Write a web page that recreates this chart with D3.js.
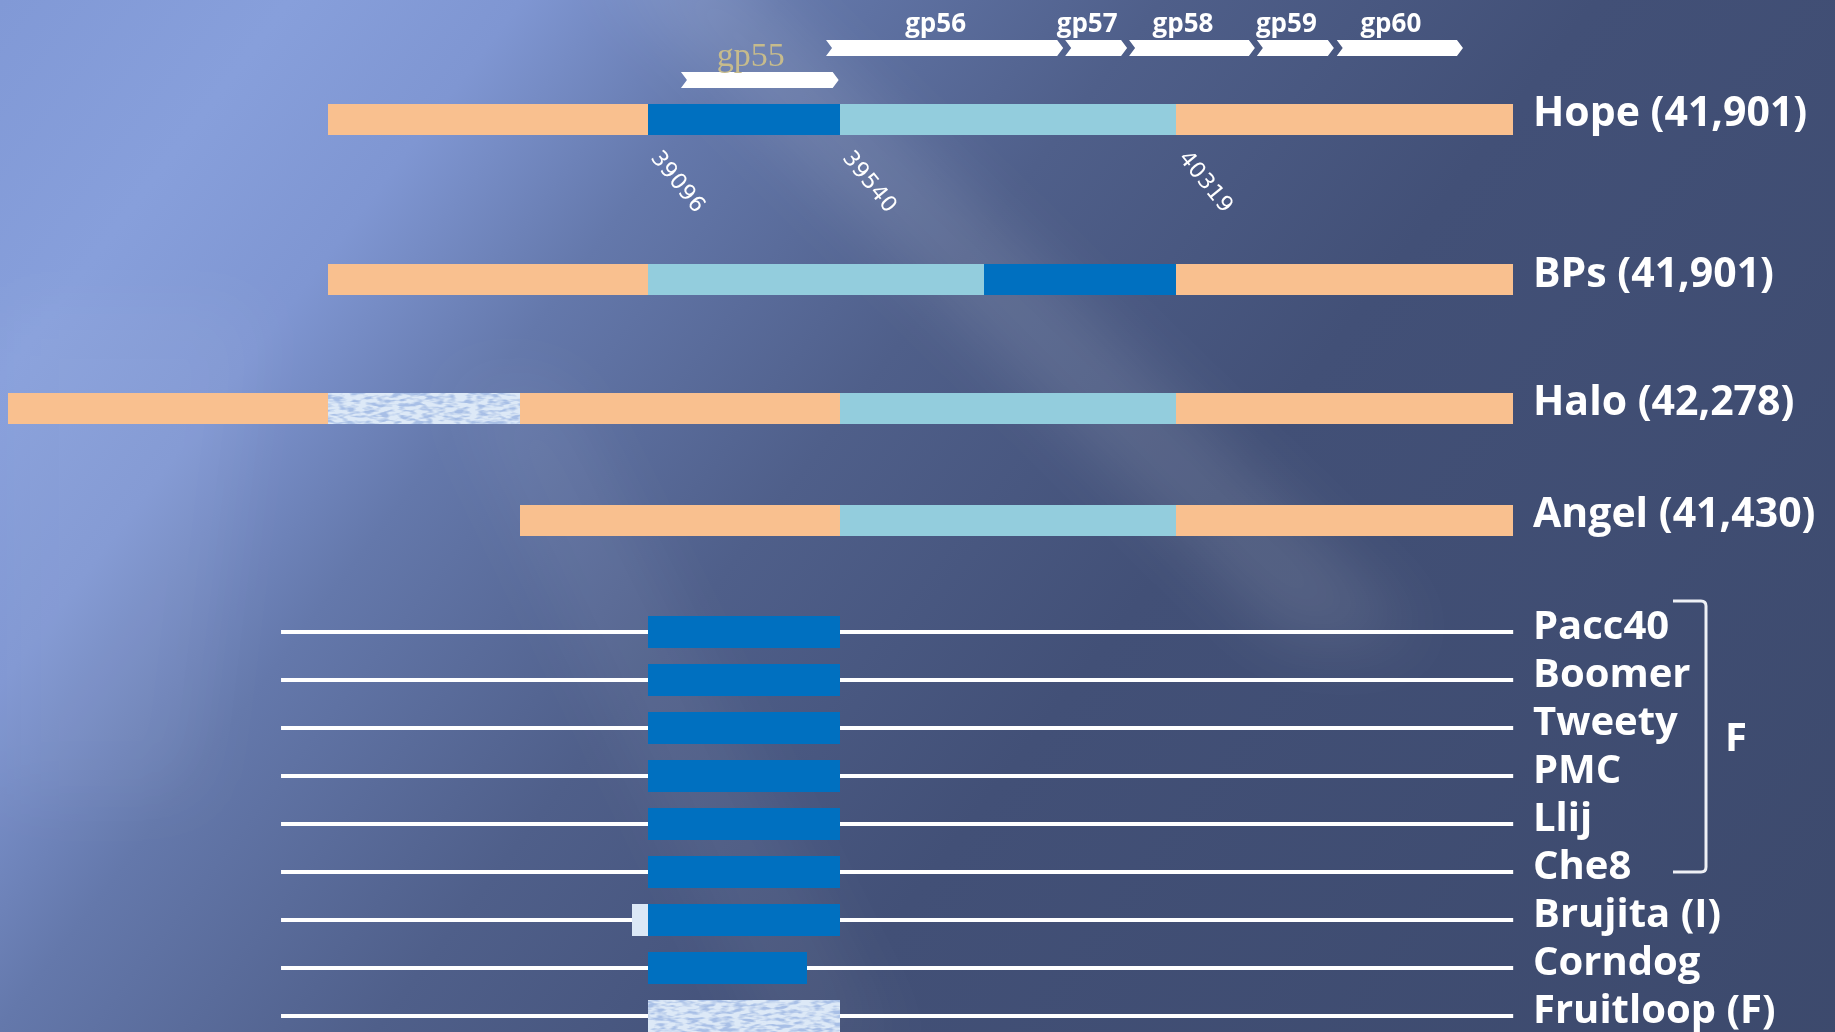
<!DOCTYPE html>
<html>
<head>
<meta charset="utf-8">
<script src="https://cdn.jsdelivr.net/npm/d3@7"></script>
<style>
  html, body { margin: 0; padding: 0; overflow: hidden; background: #3c4a6c; }
  svg { display: block; }
</style>
</head>
<body>
<svg id="chart" width="1835" height="1032"></svg>
<script>
// ---------------- DATA ----------------
const genomeNames = ["Hope (41,901)", "BPs (41,901)", "Halo (42,278)", "Angel (41,430)"];
const hopeSegments  = [[38355, 39096, "flank"], [39096, 39540, "dark"], [39540, 40319, "light"], [40319, 41100, "flank"]];
const bpsSegments   = [[38355, 39096, "flank"], [39096, 39874, "light"], [39874, 40319, "dark"], [40319, 41100, "flank"]];
const haloSegments  = [[37614, 38355, "flank"], [38355, 38800, "mottled"], [38800, 39540, "flank"], [39540, 40319, "light"], [40319, 41100, "flank"]];
const angelSegments = [[38800, 39540, "flank"], [39540, 40319, "light"], [40319, 41100, "flank"]];

const geneNames = ["gp55", "gp56", "gp57", "gp58", "gp59", "gp60"];
const geneStart = [39170, 39506, 40060, 40208, 40504, 40689];
const geneEnd   = [39540, 40060, 40208, 40504, 40687, 40986];
const geneTier  = [1, 0, 0, 0, 0, 0];

const coordTicks = [39096, 39540, 40319];

const phageNames = ["Pacc40", "Boomer", "Tweety", "PMC", "Llij", "Che8", "Brujita (I)", "Corndog", "Fruitloop (F)"];
const phageSegments = [
  [[39096, 39540, "dark"]],
  [[39096, 39540, "dark"]],
  [[39096, 39540, "dark"]],
  [[39096, 39540, "dark"]],
  [[39096, 39540, "dark"]],
  [[39096, 39540, "dark"]],
  [[39059, 39096, "pale"], [39096, 39540, "dark"]],
  [[39096, 39465, "dark"]],
  [[39096, 39540, "mottled"]]
];
const phageLineSpan = [38246, 41100];
const clusterName = "F";
const clusterMembers = [0, 5];

// ---------------- LAYOUT ----------------
const W = 1835, H = 1032;
const svg = d3.select("#chart");
const defs = svg.append("defs");

const x = d3.scaleLinear().domain([39096, 40319]).range([648, 1176]);

const fills = { flank: "#f9c08f", dark: "#0070c0", light: "#93cddd", pale: "#dbe8f6", mottled: "#dde9f7" };

// background gradient
const bg = defs.append("linearGradient").attr("id", "bg")
  .attr("gradientUnits", "userSpaceOnUse")
  .attr("x1", 0).attr("y1", 0).attr("x2", 1835).attr("y2", 1400);
[[0, "#8199d6"], [0.1, "#879fdb"], [0.18, "#7f96d2"], [0.27, "#6478ab"], [0.4, "#4f5f8a"], [0.55, "#425077"], [1, "#3b486a"]]
  .forEach(([o, c]) => bg.append("stop").attr("offset", o).attr("stop-color", c));

const blur = defs.append("filter").attr("id", "blur")
  .attr("x", "-50%").attr("y", "-50%").attr("width", "200%").attr("height", "200%");
blur.append("feGaussianBlur").attr("stdDeviation", 35);

const mottle = defs.append("filter").attr("id", "mottle")
  .attr("color-interpolation-filters", "sRGB");
mottle.append("feTurbulence").attr("type", "fractalNoise").attr("baseFrequency", "0.09 0.28")
  .attr("numOctaves", 2).attr("seed", 4).attr("result", "t");
mottle.append("feColorMatrix").attr("in", "t").attr("type", "matrix")
  .attr("values", "0 0 0 0 0.66  0 0 0 0 0.75  0 0 0 0 0.90  4 0 0 0 -1.7").attr("result", "c");
mottle.append("feComposite").attr("in", "c").attr("in2", "SourceGraphic").attr("operator", "in").attr("result", "m");
const mm = mottle.append("feMerge");
mm.append("feMergeNode").attr("in", "SourceGraphic");
mm.append("feMergeNode").attr("in", "m");

svg.append("rect").attr("width", W).attr("height", H).attr("fill", "url(#bg)");
const streaks = svg.append("g").attr("filter", "url(#blur)");
streaks.append("polygon").attr("points", "600,-40 720,-40 1420,640 1290,640")
  .attr("fill", "#ffffff").attr("opacity", 0.12);
streaks.append("polygon").attr("points", "0,300 260,300 200,800 0,800")
  .attr("fill", "#ffffff").attr("opacity", 0.05);
streaks.append("polygon").attr("points", "450,380 560,380 900,1060 780,1060")
  .attr("fill", "#ffffff").attr("opacity", 0.06);

// ---------------- GENOME BARS ----------------
const genomeSegs = [hopeSegments, bpsSegments, haloSegments, angelSegments];
const genomeY = [119, 279.5, 408, 520];
const barH = 31;

const gG = svg.append("g");
genomeSegs.forEach((segs, i) => {
  gG.selectAll(null).data(segs).enter().append("rect")
    .attr("x", d => Math.round(x(d[0])))
    .attr("width", d => Math.round(x(d[1])) - Math.round(x(d[0])))
    .attr("y", Math.round(genomeY[i] - barH / 2))
    .attr("height", barH)
    .attr("fill", d => fills[d[2]])
    .attr("filter", d => d[2] === "mottled" ? "url(#mottle)" : null)
    .attr("shape-rendering", "crispEdges");
});
gG.selectAll(null).data(genomeNames).enter().append("text")
  .attr("x", 1533).attr("y", (d, i) => genomeY[i] + 7)
  .attr("fill", "#ffffff")
  .style("font-family", "'Open Sans', sans-serif").style("font-weight", 700).style("font-size", "41px")
  .text(d => d);

// ---------------- GENE ARROWS ----------------
const tierY = [48, 80];
const arrH = 16, tip = 6;
const genes = geneNames.map((n, i) => ({ name: n, s: geneStart[i], e: geneEnd[i], tier: geneTier[i] }));
const gA = svg.append("g");
gA.selectAll(null).data(genes).enter().append("path")
  .attr("fill", "#ffffff")
  .attr("d", d => {
    const x0 = x(d.s) + 1, x1 = x(d.e) - 1, yc = tierY[d.tier];
    const t = yc - arrH / 2, b = yc + arrH / 2;
    return `M${x0},${t}L${x1 - tip},${t}L${x1},${yc}L${x1 - tip},${b}L${x0},${b}L${x0 + tip},${yc}Z`;
  });
gA.selectAll(null).data(genes).enter().append("text")
  .attr("x", d => (x(d.s) + x(d.e)) / 2 - 9)
  .attr("y", d => d.tier === 1 ? 66 : 32)
  .attr("text-anchor", "middle")
  .attr("fill", d => d.tier === 1 ? "#c6bb8c" : "#ffffff")
  .style("font-family", d => d.tier === 1 ? "'Liberation Serif', serif" : "'Open Sans', sans-serif")
  .style("font-weight", d => d.tier === 1 ? 400 : 700)
  .style("font-size", d => d.tier === 1 ? "34px" : "26px")
  .text(d => d.name);

// ---------------- COORDINATE LABELS ----------------
svg.append("g").selectAll("text").data(coordTicks).enter().append("text")
  .attr("transform", d => `translate(${x(d) + 2},158) rotate(51)`)
  .attr("fill", "#ffffff")
  .style("font-family", "'DejaVu Sans', sans-serif").style("font-size", "22px")
  .style("letter-spacing", "0.5px")
  .text(d => d);

// ---------------- PHAGE ROWS ----------------
const rowY = d3.scaleLinear().domain([0, 1]).range([632, 680]);
const boxH = 32;
const gP = svg.append("g");
phageNames.forEach((name, i) => {
  const yc = rowY(i);
  gP.append("line")
    .attr("x1", x(phageLineSpan[0])).attr("x2", x(phageLineSpan[1]))
    .attr("y1", yc).attr("y2", yc)
    .attr("stroke", "#ffffff").attr("stroke-width", 4);
  gP.selectAll(null).data(phageSegments[i]).enter().append("rect")
    .attr("x", d => Math.round(x(d[0])))
    .attr("width", d => Math.round(x(d[1])) - Math.round(x(d[0])))
    .attr("y", yc - boxH / 2).attr("height", boxH)
    .attr("fill", d => fills[d[2]])
    .attr("filter", d => d[2] === "mottled" ? "url(#mottle)" : null)
    .attr("shape-rendering", "crispEdges");
  gP.append("text")
    .attr("x", 1533).attr("y", yc + 7)
    .attr("fill", "#ffffff")
    .style("font-family", "'Open Sans', sans-serif").style("font-weight", 700).style("font-size", "40px")
    .text(name);
});

// cluster bracket
const bTop = rowY(clusterMembers[0]) - 31, bBot = rowY(clusterMembers[1]);
const bx0 = 1673, bx1 = 1706, r = 5;
gP.append("path")
  .attr("d", `M${bx0},${bTop}H${bx1 - r}Q${bx1},${bTop} ${bx1},${bTop + r}V${bBot - r}Q${bx1},${bBot} ${bx1 - r},${bBot}H${bx0}`)
  .attr("fill", "none").attr("stroke", "#eef0f5").attr("stroke-width", 3);
gP.append("text")
  .attr("x", 1725).attr("y", (bTop + bBot) / 2 + 14)
  .attr("fill", "#ffffff")
  .style("font-family", "'Open Sans', sans-serif").style("font-weight", 700).style("font-size", "40px")
  .text(clusterName);
</script>
</body>
</html>
